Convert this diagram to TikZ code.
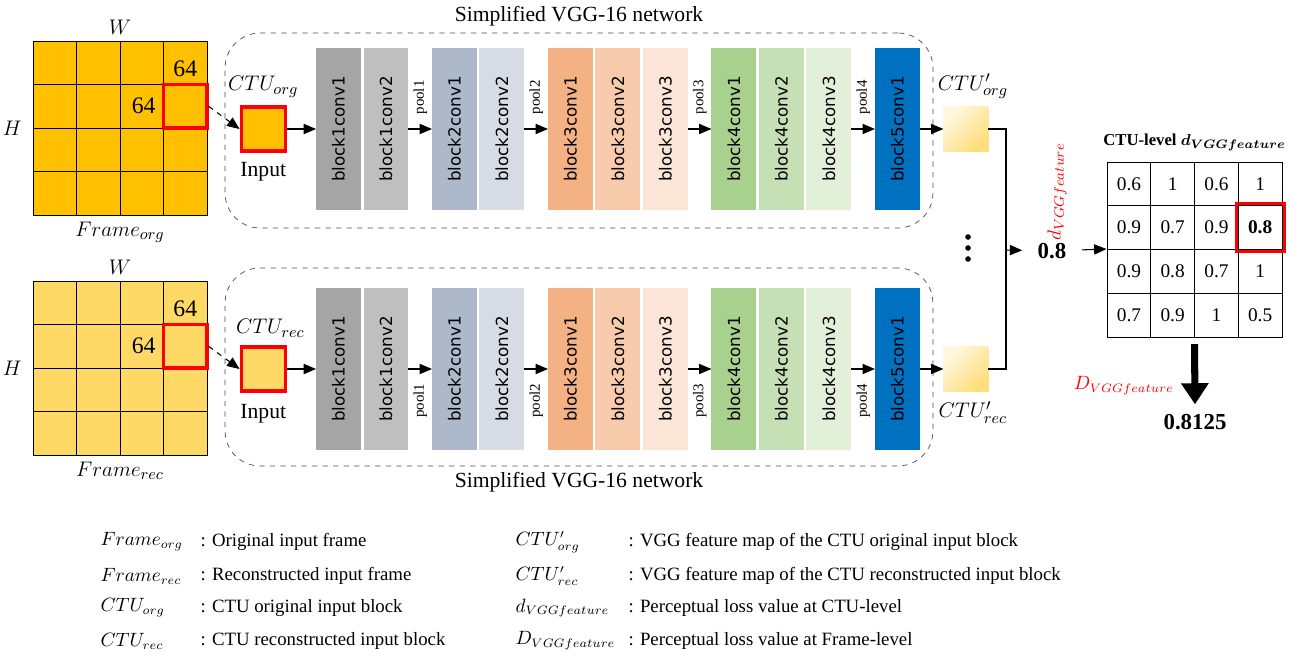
\documentclass[tikz,border=0pt]{standalone}
\usepackage{fontspec}
\setmainfont{Liberation Serif}
\newfontfamily\blockfont{DejaVu Sans}
\usetikzlibrary{arrows,arrows.meta,positioning}

\definecolor{frameorg}{HTML}{FFC000}
\definecolor{framerec}{HTML}{FFD966}
\definecolor{ctured}{HTML}{FF0000}
\definecolor{convA}{HTML}{A5A5A5}
\definecolor{convB}{HTML}{BFBFBF}
\definecolor{convC}{HTML}{ADB9CA}
\definecolor{convD}{HTML}{D6DCE5}
\definecolor{convE}{HTML}{F4B183}
\definecolor{convF}{HTML}{F8CBAD}
\definecolor{convG}{HTML}{FBE5D6}
\definecolor{convH}{HTML}{A9D18E}
\definecolor{convI}{HTML}{C5E0B4}
\definecolor{convJ}{HTML}{E2F0D9}
\definecolor{convK}{HTML}{0070C0}
\definecolor{featlight}{HTML}{FFF8E2}
\definecolor{featdark}{HTML}{FFDD78}

\begin{document}
\begin{tikzpicture}[
            x = 0.02cm, y = -0.02cm, % one unit = one pixel of the sketch
            > = triangle 45, % arrow head style
            semithick, % line style
            conv/.style = {minimum width = 0.9cm, minimum height = 3.26cm,
                inner sep = 0pt, outer sep = 0pt, font = \blockfont\fontsize{9.5}{10}\selectfont},
            inbox/.style = {draw = ctured, line width = 2pt, minimum size = 0.88cm, inner sep = 0pt},
            ctubox/.style = {draw = ctured, line width = 1.8pt, minimum size = 0.87cm, inner sep = 0pt},
            featbox/.style = {minimum size = 0.9cm, inner sep = 0pt, outer sep = 0pt,
                left color = featlight, right color = featdark, shading angle = 45},
            netbox/.style = {draw = black!70, thin, dashed, rounded corners = 0.7cm,
                minimum width = 14.16cm},
            cell/.style = {draw, thin, minimum size = 0.875cm, inner sep = 0pt,
                font = \fontsize{11}{12}\selectfont},
            dot/.style = {circle, fill, inner sep = 0pt, minimum size = 3.2pt},
            pool/.style = {inner sep = 0pt, font = \fontsize{8.5}{9}\selectfont},
            big/.style = {font = \fontsize{12.3}{14}\selectfont},
            mlabel/.style = {font = \fontsize{12.5}{14}\selectfont},
            legend/.style = {anchor = west, inner sep = 0pt, font = \fontsize{10.7}{13}\selectfont}
        ]

        \useasboundingbox (0,0) rectangle (1290,658);

        % frames with their CTU grid
        \node[draw, thin, fill = frameorg, minimum size = 3.48cm, inner sep = 0pt] (frameO) at (120,128) {};
        \node[draw, thin, fill = framerec, minimum size = 3.48cm, inner sep = 0pt] (frameR) at (120,368) {};
        \foreach \k in {1,2,3} {
            \draw[thin] (33+43.5*\k,41) -- (33+43.5*\k,215);
            \draw[thin] (33,41+43.5*\k) -- (207,41+43.5*\k);
            \draw[thin] (33+43.5*\k,281) -- (33+43.5*\k,455);
            \draw[thin] (33,281+43.5*\k) -- (207,281+43.5*\k);
        }
        \node[ctubox] (ctuO) at (185.25,106.25) {};
        \node[ctubox] (ctuR) at (185.25,346.25) {};

        \node[mlabel, above = 0pt of frameO] (wO) {$W$};
        \node[mlabel, left = 6pt of frameO, inner xsep = 0pt] (hO) {$H$};
        \node[mlabel, below = 0pt of frameO] (fO) {$Frame_{org}$};
        \node[mlabel, above = 0pt of frameR] (wR) {$W$};
        \node[mlabel, left = 6pt of frameR, inner xsep = 0pt] (hR) {$H$};
        \node[mlabel, below = 0pt of frameR] (fR) {$Frame_{rec}$};
        \node[big, above = 0pt of ctuO, font = \fontsize{13.5}{14}\selectfont] (sizeOt) {64};
        \node[big, left = 0pt of ctuO, font = \fontsize{13.5}{14}\selectfont] (sizeOl) {64};
        \node[big, above = 0pt of ctuR, font = \fontsize{13.5}{14}\selectfont] (sizeRt) {64};
        \node[big, left = 0pt of ctuR, font = \fontsize{13.5}{14}\selectfont] (sizeRl) {64};

        % the two simplified VGG-16 networks
        \foreach \row/\yy in {top/129, bot/369} {
            \node[conv, fill = convA] (\row-b11) at (338.5,\yy) {\rotatebox{90}{block1conv1}};
            \node[conv, fill = convB, right = 0.05cm of \row-b11] (\row-b12) {\rotatebox{90}{block1conv2}};
            \node[conv, fill = convC, right = 0.47cm of \row-b12] (\row-b21) {\rotatebox{90}{block2conv1}};
            \node[conv, fill = convD, right = 0.05cm of \row-b21] (\row-b22) {\rotatebox{90}{block2conv2}};
            \node[conv, fill = convE, right = 0.47cm of \row-b22] (\row-b31) {\rotatebox{90}{block3conv1}};
            \node[conv, fill = convF, right = 0.05cm of \row-b31] (\row-b32) {\rotatebox{90}{block3conv2}};
            \node[conv, fill = convG, right = 0.05cm of \row-b32] (\row-b33) {\rotatebox{90}{block3conv3}};
            \node[conv, fill = convH, right = 0.47cm of \row-b33] (\row-b41) {\rotatebox{90}{block4conv1}};
            \node[conv, fill = convI, right = 0.05cm of \row-b41] (\row-b42) {\rotatebox{90}{block4conv2}};
            \node[conv, fill = convJ, right = 0.05cm of \row-b42] (\row-b43) {\rotatebox{90}{block4conv3}};
            \node[conv, fill = convK, right = 0.47cm of \row-b43] (\row-b51) {\rotatebox{90}{block5conv1}};
        }
        \foreach \a/\b/\n in {b12/b21/1, b22/b31/2, b33/b41/3, b43/b51/4} {
            \path[->] (top-\a) edge node[pool, above = 8pt] {\rotatebox{90}{pool\n}} (top-\b);
            \path[->] (bot-\a) edge node[pool, below = 8pt] {\rotatebox{90}{pool\n}} (bot-\b);
        }

        \node[netbox, minimum height = 3.9cm] (netO) at (579,130.5) {};
        \node[netbox, minimum height = 3.96cm] (netR) at (579,367) {};
        \node[big, above = 0pt of netO] (titleO) {Simplified VGG-16 network};
        \node[big, below = 0pt of netR] (titleR) {Simplified VGG-16 network};

        % CTU inputs and feature maps
        \node[inbox, fill = frameorg, left = 0.58cm of top-b11] (inO) {};
        \node[inbox, fill = framerec, left = 0.58cm of bot-b11] (inR) {};
        \node[mlabel, above = 1pt of inO] (ctuOlab) {$CTU_{org}$};
        \node[big, below = 2pt of inO] (inOlab) {Input};
        \node[mlabel, above = 1pt of inR, xshift = 4pt] (ctuRlab) {$CTU_{rec}$};
        \node[big, below = 3pt of inR] (inRlab) {Input};

        \node[featbox, right = 0.47cm of top-b51] (fmO) {};
        \node[featbox, right = 0.47cm of bot-b51] (fmR) {};
        \node[mlabel, above = 1pt of fmO, xshift = 4pt] (fmOlab) {$CTU'_{org}$};
        \node[mlabel, below = 2pt of fmR, xshift = 4pt] (fmRlab) {$CTU'_{rec}$};
        \node[dot] (dot1) at (968,237) {};
        \node[dot] (dot2) at (968,248) {};
        \node[dot] (dot3) at (968,259) {};

        \draw[->, dashed] (ctuO.east) -- (inO.west);
        \draw[->, dashed] (ctuR.east) -- (inR.west);
        \path[->] (inO) edge (top-b11);
        \path[->] (inR) edge (bot-b11);
        \path[->] (top-b51) edge (fmO);
        \path[->] (bot-b51) edge (fmR);

        % CTU-level and frame-level loss
        \coordinate (join) at (1006,250);
        \node[big, font = \bfseries\fontsize{13}{14}\selectfont, inner xsep = 0.3cm] (dval) at (1052,251) {0.8};
        \node[text = ctured, rotate = 90, font = \fontsize{11}{12}\selectfont] (dlab) at (1057,192) {$d_{VGGfeature}$};
        \draw (fmO.east) -| (join);
        \draw (fmR.east) -| (join);
        \draw[->] (join) -- (dval);

        \node[minimum size = 3.5cm, inner sep = 0pt] (tab) at (1194.5,249) {};
        \foreach \r/\va/\vb/\vc/\vd in {1/0.6/1/0.6/1, 2/0.9/0.7/0.9/{\textbf{0.8}}, 3/0.9/0.8/0.7/1, 4/0.7/0.9/1/0.5} {
            \node[cell] (c-\r-1) at (1128.9,140.1+43.75*\r) {\va};
            \node[cell] (c-\r-2) at (1172.6,140.1+43.75*\r) {\vb};
            \node[cell] (c-\r-3) at (1216.4,140.1+43.75*\r) {\vc};
            \node[cell] (c-\r-4) at (1260.1,140.1+43.75*\r) {\vd};
        }
        \draw[draw = ctured, line width = 1.8pt] ([shift = {(-1pt,-1pt)}]c-2-4.south west) rectangle ([shift = {(1pt,1pt)}]c-2-4.north east);
        \node[above = 2pt of tab, font = \bfseries\boldmath\fontsize{9.5}{11}\selectfont] (tabtitle) {CTU-level $d_{VGGfeature}$};
        \draw[->] (dval) -- (tab.west);

        \node[font = \bfseries\fontsize{13}{14}\selectfont] (total) at (1195,422) {0.8125};
        \draw[line width = 4pt, -{Triangle[length = 12pt, width = 15pt]}] ([yshift = -4pt]tab.south) -- ([yshift = 2pt]total.north);
        \node[text = ctured, anchor = east, font = \fontsize{10.5}{12}\selectfont] (Dlab) at (1180,386) {$D_{VGGfeature}$};

        % legend
        \foreach \n/\yy/\sym/\txt in {1/542/{$Frame_{org}$}/{: Original input frame},
                2/576/{$Frame_{rec}$}/{: Reconstructed input frame},
                3/608/{$CTU_{org}$}/{: CTU original input block},
                4/641/{$CTU_{rec}$}/{: CTU reconstructed input block}} {
            \node[legend] (legsym-\n) at (100,\yy) {\sym};
            \node[legend] (legtxt-\n) at (200,\yy) {\txt};
        }
        \foreach \n/\yy/\sym/\txt in {5/542/{$CTU'_{org}$}/{: VGG feature map of the CTU original input block},
                6/576/{$CTU'_{rec}$}/{: VGG feature map of the CTU reconstructed input block},
                7/608/{$d_{VGGfeature}$}/{: Perceptual loss value at CTU-level},
                8/641/{$D_{VGGfeature}$}/{: Perceptual loss value at Frame-level}} {
            \node[legend] (legsym-\n) at (515,\yy) {\sym};
            \node[legend] (legtxt-\n) at (628,\yy) {\txt};
        }
    \end{tikzpicture}
\end{document}
